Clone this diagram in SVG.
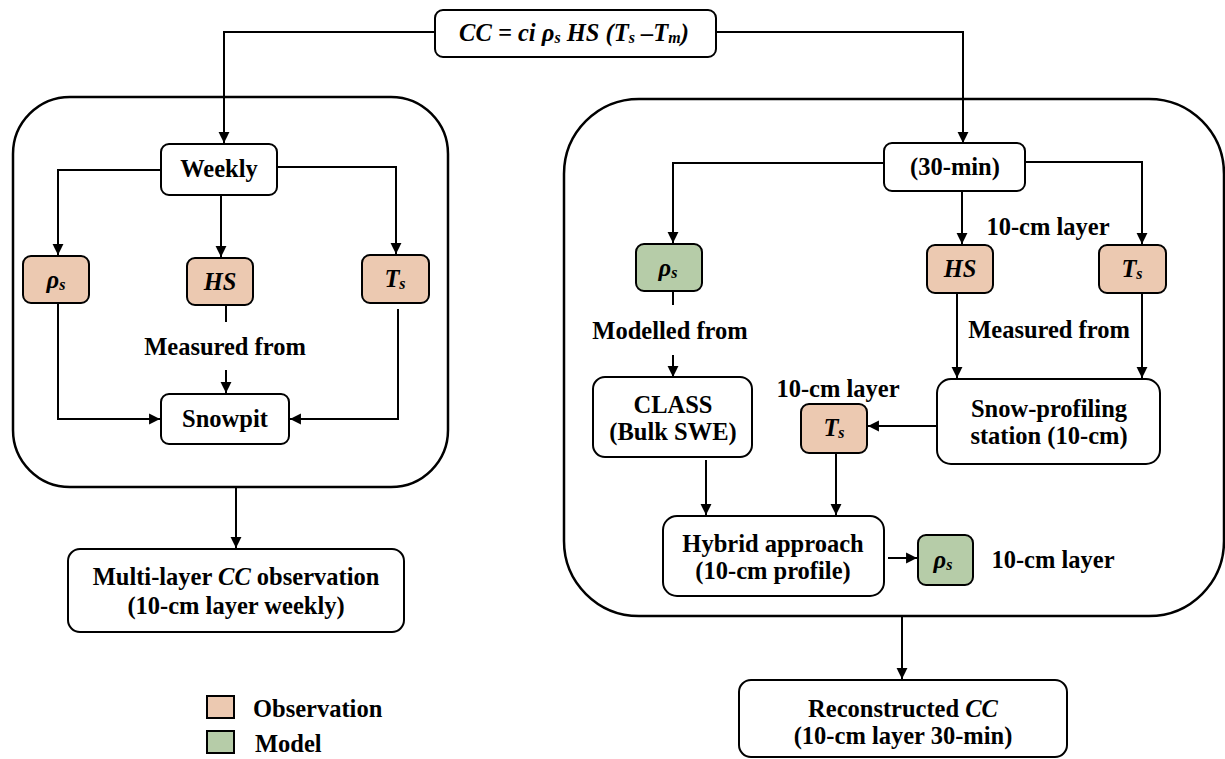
<svg xmlns="http://www.w3.org/2000/svg" width="1225" height="759" viewBox="0 0 1225 759">
<style>
text{font-family:"Liberation Serif","Times New Roman",serif;font-weight:bold;font-size:24.5px;fill:#000}
.c{text-anchor:middle}
.i{font-style:italic}
.box{fill:#fff;stroke:#000;stroke-width:2}
.obs{fill:#ECC9B1;stroke:#000;stroke-width:2}
.mod{fill:#B6CCA8;stroke:#000;stroke-width:2}
.panel{fill:none;stroke:#000;stroke-width:2.5}
.ln{fill:none;stroke:#000;stroke-width:2}
.ar{marker-end:url(#ah)}
.sub{font-size:16px}
</style>
<defs>
<marker id="ah" markerUnits="userSpaceOnUse" markerWidth="12" markerHeight="12" refX="10" refY="5.5" orient="auto" viewBox="0 0 11 11">
<path d="M0,0.5 L10,5.5 L0,10.5 z" fill="#000"/>
</marker>
</defs>
<rect id="panel-left" class="panel" x="13" y="97" width="435" height="390" rx="57"/>
<rect id="panel-right" class="panel" x="564" y="99" width="660" height="517" rx="75"/>
<g id="connectors">
<path class="ln ar" d="M435,32 H224 V143"/>
<path class="ln ar" d="M716,32 H963 V143"/>
<path class="ln ar" d="M161,170 H58 V255"/>
<path class="ln ar" d="M221,195 V257"/>
<path class="ln ar" d="M277,167 H396 V254"/>
<path class="ln" d="M226,305 V322"/>
<path class="ln ar" d="M226,370 V393"/>
<path class="ln ar" d="M58,304 V419 H160"/>
<path class="ln ar" d="M398,309 V419 H290"/>
<path class="ln ar" d="M236,487 V548"/>
<path class="ln ar" d="M884,163 H673 V243"/>
<path class="ln ar" d="M962,191 V244"/>
<path class="ln ar" d="M1025,162 H1142 V244"/>
<path class="ln" d="M673,291 V305"/>
<path class="ln ar" d="M673,355 V377"/>
<path class="ln ar" d="M957,293 V378"/>
<path class="ln ar" d="M1142,293 V378"/>
<path class="ln ar" d="M937,426 H868"/>
<path class="ln ar" d="M706,460 V515"/>
<path class="ln ar" d="M836,453 V515"/>
<path class="ln ar" d="M888,558 H917"/>
<path class="ln ar" d="M902,616 V679"/>
</g>
<g id="formula">
<rect class="box" x="435" y="10" width="281" height="47" rx="8"/>
<text class="c i" x="574" y="41" font-size="22.5">CC = ci ρ<tspan class="sub" dy="2">s</tspan><tspan dy="-2"> HS (T</tspan><tspan class="sub" dy="2">s</tspan><tspan dy="-2"> –T</tspan><tspan class="sub" dy="2">m</tspan><tspan dy="-2">)</tspan></text>
</g>
<g id="weekly">
<rect class="box" x="161" y="144" width="116" height="51" rx="8"/>
<text class="c" x="219" y="177">Weekly</text>
</g>
<g id="rho-left">
<rect class="obs" x="23" y="256" width="66" height="47" rx="8"/>
<text class="c i" x="56" y="288">ρ<tspan class="sub" dy="2">s</tspan></text>
</g>
<g id="hs-left">
<rect class="obs" x="187" y="258" width="66" height="47" rx="8"/>
<text class="c i" x="220" y="290">HS</text>
</g>
<g id="ts-left">
<rect class="obs" x="362" y="255" width="67" height="48" rx="8"/>
<text class="c i" x="395" y="287">T<tspan class="sub" dy="2">s</tspan></text>
</g>
<g id="measured-left">
<text class="c" x="225" y="355">Measured from</text>
</g>
<g id="snowpit">
<rect class="box" x="161" y="394" width="128" height="50" rx="8"/>
<text class="c" x="225" y="427">Snowpit</text>
</g>
<g id="multi-layer">
<rect class="box" x="68" y="549" width="336" height="83" rx="12"/>
<text class="c" x="236" y="585">Multi-layer <tspan class="i">CC</tspan> observation</text>
<text class="c" x="236" y="614">(10-cm layer weekly)</text>
</g>
<g id="min30">
<rect class="box" x="884" y="143" width="141" height="48" rx="8"/>
<text class="c" x="955" y="175">(30-min)</text>
</g>
<g id="rho-model">
<rect class="mod" x="636" y="244" width="66" height="47" rx="8"/>
<text class="c i" x="668" y="276">ρ<tspan class="sub" dy="2">s</tspan></text>
</g>
<g id="hs-right">
<rect class="obs" x="927" y="245" width="66" height="48" rx="8"/>
<text class="c i" x="960" y="277">HS</text>
</g>
<g id="ts-right">
<rect class="obs" x="1099" y="245" width="67" height="48" rx="8"/>
<text class="c i" x="1132" y="277">T<tspan class="sub" dy="2">s</tspan></text>
</g>
<g id="label-layer-top">
<text class="c" x="1048" y="235">10-cm layer</text>
</g>
<g id="modelled-from">
<text class="c" x="670" y="339">Modelled from</text>
</g>
<g id="measured-right">
<text class="c" x="1049" y="338">Measured from</text>
</g>
<g id="class">
<rect class="box" x="593" y="377" width="159" height="80" rx="12"/>
<text class="c" x="673" y="413">CLASS</text>
<text class="c" x="673" y="440">(Bulk SWE)</text>
</g>
<g id="label-layer-mid">
<text class="c" x="838" y="397">10-cm layer</text>
</g>
<g id="ts-mid">
<rect class="obs" x="801" y="404" width="66" height="49" rx="8"/>
<text class="c i" x="834" y="436">T<tspan class="sub" dy="2">s</tspan></text>
</g>
<g id="snow-profiling">
<rect class="box" x="937" y="379" width="223" height="85" rx="14"/>
<text class="c" x="1049" y="417">Snow-profiling</text>
<text class="c" x="1049" y="444">station (10-cm)</text>
</g>
<g id="hybrid">
<rect class="box" x="663" y="516" width="221" height="80" rx="14"/>
<text class="c" x="773" y="552">Hybrid approach</text>
<text class="c" x="773" y="579">(10-cm profile)</text>
</g>
<g id="rho-model-2">
<rect class="mod" x="918" y="535" width="55" height="50" rx="8"/>
<text class="c i" x="943" y="568">ρ<tspan class="sub" dy="2">s</tspan></text>
</g>
<g id="label-layer-bottom">
<text class="c" x="1053" y="568">10-cm layer</text>
</g>
<g id="reconstructed">
<rect class="box" x="739" y="680" width="328" height="77" rx="12"/>
<text class="c" x="903" y="717">Reconstructed <tspan class="i">CC</tspan></text>
<text class="c" x="903" y="744">(10-cm layer 30-min)</text>
</g>
<g id="legend">
<rect class="obs" x="207" y="696" width="27" height="22"/>
<text x="253" y="717">Observation</text>
<rect class="mod" x="207" y="731" width="27" height="22"/>
<text x="255" y="752">Model</text>
</g>
</svg>
